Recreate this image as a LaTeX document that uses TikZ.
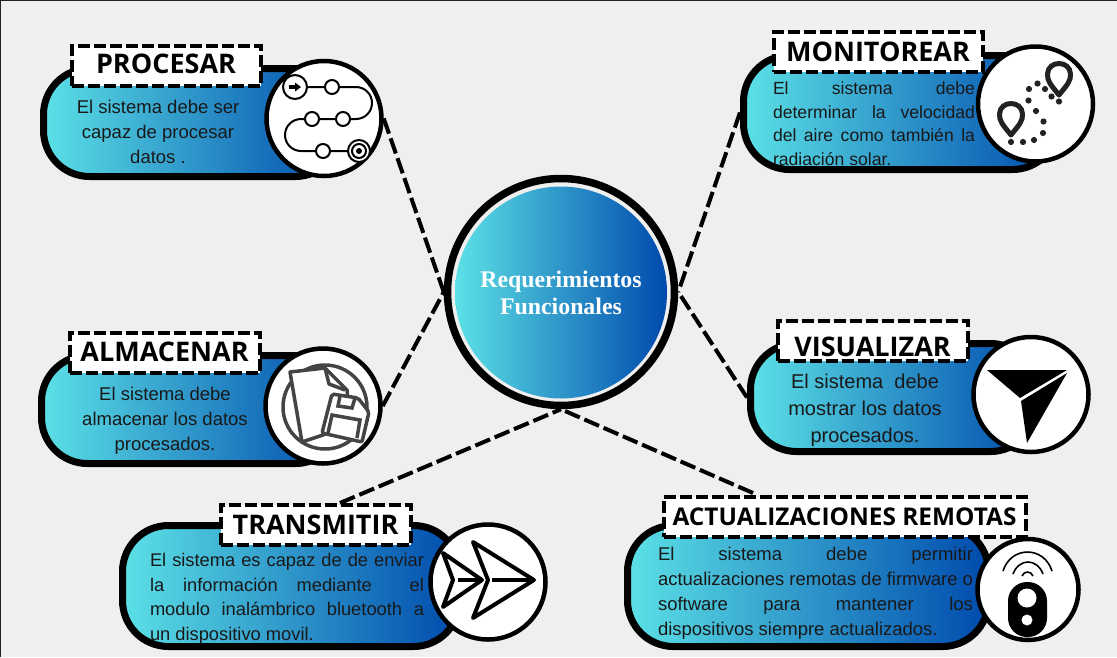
\documentclass[tikz,border=0pt]{standalone}
\usepackage{fontspec}
\setmainfont{Liberation Sans}
\newfontfamily\ttlfont{Open Sans}
\newfontfamily\reqfont{Liberation Serif}
\usepackage{xcolor}
\definecolor{mcyan}{HTML}{5CE1E6}
\definecolor{mblue}{HTML}{004AAD}
\definecolor{mpaper}{HTML}{EFEFEF}
\definecolor{mink}{HTML}{222222}
\definecolor{mfile}{HTML}{444444}
\tikzset{
  pillbox/.style={draw=black, line width=7pt, left color=mcyan, right color=mblue,
                  rounded corners=46pt, inner sep=0pt},
  ttlbox/.style={draw=black, fill=white, line width=4pt, dash pattern=on 12pt off 4pt,
                 minimum height=40pt, inner sep=0pt, text=black,
                 font=\fontsize{27}{30}\selectfont\ttlfont\bfseries},
  iconring/.style={circle, draw=black, fill=white, line width=4.5pt, inner sep=0pt},
  bodytxt/.style={inner sep=0pt, text=black!90,
                  font=\fontsize{18.5}{25}\selectfont},
  dashlink/.style={draw=black, line width=4pt, dash pattern=on 16pt off 5pt},
}
\begin{document}
\begin{tikzpicture}[x=1pt, y=-1pt]
  \useasboundingbox (0,0) rectangle (1117,657);
  \fill[mpaper] (0,0) rectangle (1117,657);
  \draw[mink, line width=2pt] (0,657) -- (0,0) -- (1117,0);

  \node[circle, draw=black, line width=7.5pt, inner sep=0pt, minimum size=227pt] (req) at (561,292) {};
  \node[circle, left color=mcyan, right color=mblue, inner sep=0pt, minimum size=212pt, align=center,
        text=white, font=\fontsize{23.8}{27}\selectfont\reqfont\bfseries] (reqfill) at (561,292.5) {Requerimientos\\Funcionales};

  \node[pillbox, minimum width=298pt, minimum height=108pt] (p1) at (192.5,122.5) {};
  \node[bodytxt, align=center] (b1) at (158,132) {El sistema debe ser\\capaz de procesar\\datos .};
  \node[iconring, minimum size=115pt] (c1) at (324,118.5) {};
  \node[ttlbox, minimum width=189pt, text depth=4pt] (t1) at (166,65.5) {PROCESAR};

  \node[pillbox, minimum width=315pt, minimum height=114pt] (p2) at (901,112.5) {};
  \node[bodytxt, text width=202pt, align=justify, font=\fontsize{17.6}{23.5}\selectfont] (b2) at (874,123.5) {El sistema debe\linebreak determinar la velocidad\linebreak del aire como también la\linebreak radiación solar.};
  \node[iconring, minimum size=115pt] (c2) at (1035.5,104) {};
  \node[ttlbox, minimum width=209pt] (t2) at (878,52) {MONITOREAR};

  \node[pillbox, minimum width=300pt, minimum height=108pt] (p3) at (191.5,409.5) {};
  \node[bodytxt, align=center] (b3) at (165,421) {El sistema debe\\almacenar los datos\\procesados.};
  \node[iconring, minimum size=115pt] (c3) at (323,406) {};
  \node[ttlbox, minimum width=190pt, text depth=2pt] (t3) at (164.5,352.5) {ALMACENAR};

  \node[pillbox, minimum width=286pt, minimum height=108pt] (p4) at (893.5,397.5) {};
  \node[bodytxt, align=center, font=\fontsize{20}{27}\selectfont] (b4) at (865,410) {El sistema\ \ debe\\mostrar los datos\\procesados.};
  \node[iconring, minimum size=115pt] (c4) at (1031,394.5) {};
  \node[ttlbox, minimum width=190pt, text height=32pt] (t4) at (872.5,341) {VISUALIZAR};

  \node[pillbox, minimum width=337pt, minimum height=121pt] (p5) at (291,586) {};
  \node[bodytxt, text width=274pt, align=justify, font=\fontsize{18.3}{24.5}\selectfont] (b5) at (287,599) {El sistema es capaz de de enviar\linebreak la información mediante\ \ el\linebreak modulo inalámbrico bluetooth a\linebreak un dispositivo movil.};
  \node[iconring, minimum size=115pt] (c5) at (488,582) {};
  \node[ttlbox, minimum width=190pt] (t5) at (315.5,524.5) {TRANSMITIR};

  \node[pillbox, minimum width=361pt, minimum height=121pt] (p6) at (808,586) {};
  \node[bodytxt, text width=315pt, align=justify] (b6) at (815.5,593) {El sistema debe permitir\linebreak actualizaciones remotas de firmware o\linebreak software para mantener los\linebreak dispositivos siempre actualizados.};
  \node[iconring, minimum size=101pt] (c6) at (1028,589.5) {};
  \node[ttlbox, minimum width=362pt, font=\fontsize{24.4}{30}\selectfont\ttlfont\bfseries] (t6) at (844.5,516.5) {ACTUALIZACIONES REMOTAS};

  \coordinate (a5) at (340,503);
  \coordinate (a6) at (753,493);
  \draw[dashlink] (c1.east) -- (req.west);
  \draw[dashlink] (c3.east) -- (req.west);
  \draw[dashlink] (p2.west) -- (req.east);
  \draw[dashlink] (p4.west) -- (req.east);
  \draw[dashlink] (a5) -- (req.south);
  \draw[dashlink] (a6) -- (req.south);

  \draw[line width=2pt, rounded corners=16pt] (295,87) -- (372,87) -- (372,119) -- (285,119) -- (285,151) -- (359,151);
  \draw[line width=2pt, fill=white] (295,87) circle (12);
  \fill (289,85) rectangle (295,89);
  \fill (295,82.5) -- (301,87) -- (295,91.5) -- cycle;
  \foreach \px/\py in {332/87, 343/119, 312/119, 323/151}
    \draw[line width=2pt, fill=white] (\px,\py) circle (7);
  \draw[line width=2pt, fill=white] (359,151) circle (11);
  \draw[line width=2pt] (359,151) circle (7);
  \fill (359,151) circle (3);

  \foreach \px/\py in {1059/75, 1011/115}
    \draw[mink, line width=5pt, line join=round] (\px,\py+20) .. controls (\px-8,\py+10) and (\px-12,\py+6) .. (\px-11.5,\py-1)
      .. controls (\px-11,\py-15) and (\px+11,\py-15) .. (\px+11.5,\py-1)
      .. controls (\px+12,\py+6) and (\px+8,\py+10) .. cycle;
  \foreach \px/\py in {1059/101.5, 1051.5/96.5, 1045/89, 1037.5/83.5, 1029/89, 1028.5/100.5, 1036/111, 1043.5/121.5, 1043/133, 1034/140, 1023/142, 1011/142}
    \fill[mink] (\px,\py) circle (3.1);

  \draw[mfile, line width=3.5pt] (325,407) circle (42);
  \draw[mfile, fill=white, line width=3.5pt, line join=round] (290,372) -- (325,368) -- (347,390) -- (350,420) -- (323,435) -- (302,442) -- cycle;
  \draw[mfile, line width=3.5pt, line join=round] (325,368) -- (329,384) -- (345,390);
  \draw[mfile, fill=white, line width=3.5pt, rounded corners=2pt] (332,394) -- (358,398) -- (369,412) -- (362,442) -- (322,433) -- cycle;
  \draw[mfile, line width=3.5pt] (340,396) -- (338,406) -- (352,408) -- (355,398);
  \draw[mfile, line width=3.5pt] (328,433) -- (332,415) -- (360,420) -- (357,438);

  \fill (987,370) -- (1067,370) -- (1020,398) -- cycle;
  \fill (1021,401) -- (1067,373) -- (1027,443) -- cycle;

  \draw[line width=4pt, line join=round] (473,542) -- (534,580) -- (473,618) -- (488,580) -- cycle;
  \draw[line width=4pt, line join=round] (443,553) -- (482,580) -- (443,607) -- (453,580) -- cycle;
  \draw[line width=4pt] (458,580) -- (482,580);
  \draw[line width=4pt] (492,580) -- (534,580);

  \fill[rounded corners=19pt] (1008,582) rectangle (1047,637);
  \fill[white] (1027,598) circle (9.5);
  \fill[white] (1027,620) circle (5.5);
  \draw[line width=1.6pt] (1003,571) .. controls (1011,545.7) and (1044,545.7) .. (1052,571);
  \draw[line width=1.6pt] (1013,574) .. controls (1019,558) and (1037,558) .. (1043,574);
  \draw[line width=1.6pt] (1022,576) .. controls (1024,570.7) and (1031,570.7) .. (1033,576);
\end{tikzpicture}
\end{document}
